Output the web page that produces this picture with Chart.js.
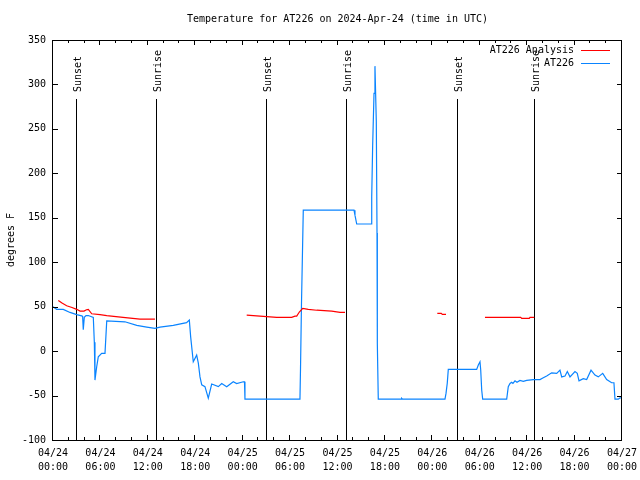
<!DOCTYPE html>
<html><head><meta charset="utf-8">
<script src="https://cdn.jsdelivr.net/npm/chart.js@4"></script>
<style>html,body{margin:0;padding:0;background:#fff}canvas{display:block}</style>
</head><body>
<canvas id="c" width="640" height="480" style="width:640px;height:480px"></canvas>
<script>
const chartTitle = 'Temperature for AT226 on 2024-Apr-24 (time in UTC)';
const yAxisTitle = 'degrees F';
const xTickLabels = [
  ['04/24','00:00'],['04/24','06:00'],['04/24','12:00'],['04/24','18:00'],
  ['04/25','00:00'],['04/25','06:00'],['04/25','12:00'],['04/25','18:00'],
  ['04/26','00:00'],['04/26','06:00'],['04/26','12:00'],['04/26','18:00'],
  ['04/27','00:00']
];
// hours since 04/24 00:00 UTC
const eventHours = [2.9, 13.0, 27.0, 37.1, 51.08, 60.9];
const eventLabels = ['Sunset','Sunrise','Sunset','Sunrise','Sunset','Sunrise'];

const analysisHours = [0.67,1.14,1.73,2.4,3.0,3.42,3.92,4.24,4.47,4.9,5.95,6.8,8.86,11.0,12.9,
  18.0,
  24.51,26.19,28.31,30.2,30.62,30.84,31.17,31.6,32.3,33.37,35.27,36.32,36.95,
  42.0,
  48.63,49.13,49.26,49.73,
  52.0,
  54.66,59.18,59.31,60.27,60.36,60.9];
const analysisTemps = [57,54,51,49,47,45,45,46.5,47,42,41,40,38,36,36,
  null,
  40.5,39.4,38,38,39.4,39.4,44,48,47,46,45,43.5,43.5,
  null,
  42.4,42.4,41.3,41.3,
  null,
  38,38,36.8,36.8,38,38];

const sensorHours = [0,0.47,1.3,2.15,3.0,3.63,3.75,3.83,3.96,4.18,4.47,5.1,5.23,5.31,5.53,5.73,6.16,6.58,6.8,
  9.1,10.6,11.86,12.9,13.54,15.22,16.9,17.25,17.42,17.75,18.18,18.39,18.6,18.82,19.23,19.65,20.08,20.92,
  21.35,21.98,22.81,23.24,24.08,24.23,24.29,31.25,31.32,31.44,31.67,38.09,38.21,38.43,40.24,40.33,40.45,
  40.62,40.74,40.91,41.0,41.04,41.16,44.04,44.12,44.22,49.6,49.73,49.89,50.02,53.61,53.82,54.03,54.12,
  54.25,54.37,57.41,57.61,57.83,58.04,58.2,58.46,58.71,59.09,59.51,59.94,60.78,61.62,62.04,62.47,63.1,
  63.74,64.15,64.37,64.79,65.08,65.42,66.05,66.34,66.56,67.1,67.53,68.08,68.58,69.0,69.56,70.06,70.69,
  70.98,71.11,71.53,71.75,72];
const sensorTemps = [50,47,47,43.5,41,39.7,39,24,38,40,40,38,10,-32.6,-17.6,-6.4,-2.5,-2.5,34,
  33,29,27,25.5,27,29,32,35,16,-12,-4.5,-13.5,-29,-38,-40,-53,-37,-40,
  -36.5,-40,-34.5,-36.5,-34.5,-34.5,-54,-54,-19.5,52,158.6,158.6,153,143,143,173.6,231.7,
  290,320.6,258,133,8.6,-54,-54,-53,-54,-54,-47.6,-36,-20.6,-20.6,-15.7,-12,-21,
  -44,-54,-54,-40,-36.4,-35,-36.4,-33.4,-35,-33,-34,-33,-32,-32,-30,-28,-24.4,
  -25,-21.4,-29,-28,-23,-29,-23,-25,-33.4,-31,-32,-21.4,-27,-29,-25,-32,-35.6,
  -35.6,-54,-54,-52.5,-52.5];

const FONT = 'DejaVu Sans Mono';
const toPts = (xs, ys) => xs.map((x, i) => ({x: x, y: ys[i]}));

const gnuplotDecor = {
  id: 'gnuplotDecor',
  beforeDatasetsDraw(chart) {
    const {ctx, chartArea: a, scales: {x}} = chart;
    ctx.save();
    ctx.strokeStyle = '#000';
    ctx.lineWidth = 1;
    ctx.fillStyle = '#000';
    ctx.font = '10px ' + FONT;
    eventHours.forEach((h, i) => {
      const px = Math.round(x.getPixelForValue(h)) + 0.5;
      ctx.beginPath();
      ctx.moveTo(px, a.top + 59);
      ctx.lineTo(px, a.bottom);
      ctx.stroke();
      ctx.save();
      ctx.translate(px + 1.5, a.top + 52);
      ctx.rotate(-Math.PI / 2);
      ctx.textAlign = 'left';
      ctx.textBaseline = 'middle';
      ctx.fillText(eventLabels[i], 0, 0);
      ctx.restore();
    });
    ctx.restore();
  },
  afterDraw(chart) {
    const {ctx, chartArea: a, scales: {x, y}} = chart;
    ctx.save();
    ctx.strokeStyle = '#000';
    ctx.lineWidth = 1;
    // frame
    ctx.strokeRect(a.left - 0.5, a.top + 0.5, a.right - a.left, a.bottom - a.top);
    ctx.beginPath();
    // x ticks (major from scale, minor every 2h)
    for (let v = x.min; v <= x.max; v += 2) {
      const major = x.ticks.some(t => t.value === v);
      const len = major ? 5 : 3;
      const px = Math.round(x.getPixelForValue(v)) - 0.5;
      ctx.moveTo(px, a.bottom); ctx.lineTo(px, a.bottom - len);
      ctx.moveTo(px, a.top); ctx.lineTo(px, a.top + len);
    }
    y.ticks.forEach(t => {
      const py = Math.round(y.getPixelForValue(t.value)) + 0.5;
      ctx.moveTo(a.left, py); ctx.lineTo(a.left + 5, py);
      ctx.moveTo(a.right, py); ctx.lineTo(a.right - 5, py);
    });
    ctx.stroke();
    // title
    ctx.fillStyle = '#000';
    ctx.font = '10px ' + FONT;
    ctx.textAlign = 'center';
    ctx.textBaseline = 'middle';
    ctx.fillText(chartTitle, (a.left + a.right) / 2, 19);
    // legend
    chart.data.datasets.forEach((ds, i) => {
      const ly = a.top + 10 + 13 * i;
      ctx.textAlign = 'right';
      ctx.fillText(ds.label, a.right - 48, ly);
      ctx.strokeStyle = ds.borderColor;
      ctx.beginPath();
      ctx.moveTo(a.right - 41, ly + 0.5);
      ctx.lineTo(a.right - 12, ly + 0.5);
      ctx.stroke();
    });
    ctx.restore();
  }
};

new Chart(document.getElementById('c'), {
  type: 'line',
  data: {
    datasets: [
      {label: 'AT226 Analysis', data: toPts(analysisHours, analysisTemps), borderColor: '#ff0000',
       borderWidth: 1.2, pointRadius: 0, spanGaps: false, tension: 0},
      {label: 'AT226', data: toPts(sensorHours, sensorTemps), borderColor: '#0a84ff',
       borderWidth: 1.2, pointRadius: 0, spanGaps: false, tension: 0}
    ]
  },
  options: {
    responsive: false,
    animation: false,
    devicePixelRatio: 1,
    layout: {padding: {left: 0, right: 18, top: 40, bottom: 0}},
    plugins: {legend: {display: false}, title: {display: false}, tooltip: {enabled: false}},
    scales: {
      x: {
        type: 'linear', min: 0, max: 72,
        grid: {display: false, drawTicks: false}, border: {display: false},
        ticks: {stepSize: 6, autoSkip: false, maxRotation: 0, minRotation: 0,
          callback: (v, i) => xTickLabels[i], color: '#000', padding: 6,
          font: {family: FONT, size: 10, lineHeight: 1.4}},
        afterFit(s) { s.height = 40; s.paddingLeft = 0; s.paddingRight = 0; }
      },
      y: {
        min: -100, max: 350,
        grid: {display: false, drawTicks: false}, border: {display: false},
        ticks: {stepSize: 50, color: '#000', padding: 7, font: {family: FONT, size: 10}},
        title: {display: true, text: yAxisTitle, color: '#000', padding: {top: 5, bottom: 0},
          font: {family: FONT, size: 10}},
        afterFit(s) { s.width = 53; }
      }
    }
  },
  plugins: [gnuplotDecor]
});
</script>
</body></html>
